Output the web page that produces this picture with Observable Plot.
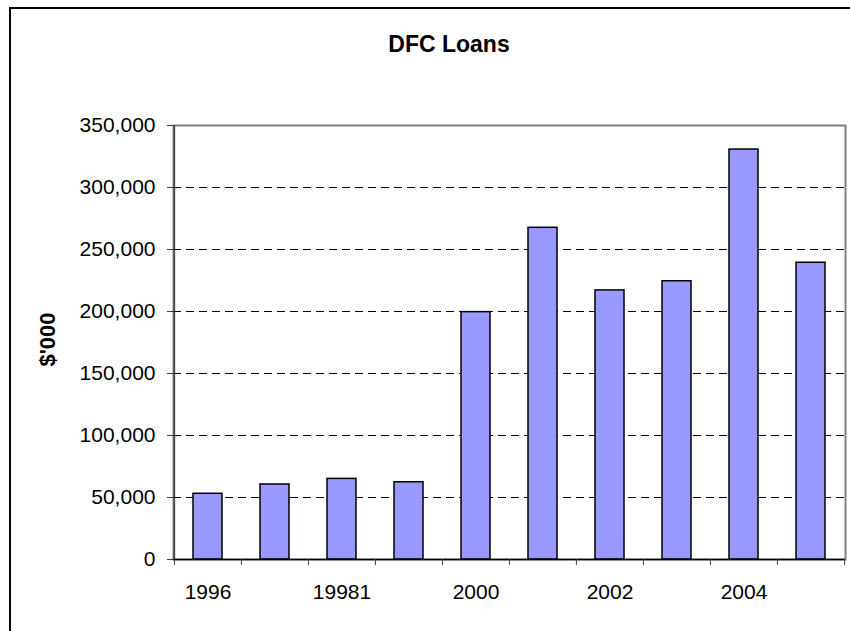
<!DOCTYPE html>
<html>
<head>
<meta charset="utf-8">
<script src="https://cdn.jsdelivr.net/npm/d3@7"></script>
<script src="https://cdn.jsdelivr.net/npm/@observablehq/plot@0.6"></script>
<style>
  html, body { margin: 0; padding: 0; background: #fff; }
  #wrap { position: relative; width: 850px; height: 631px; overflow: hidden; font-family: "Liberation Sans", Arial, sans-serif; }
  #border { position: absolute; left: 9px; top: 7px; width: 1000px; height: 1000px; border: 2.5px solid #000; box-sizing: border-box; }
  #title { position: absolute; left: 0; width: 898px; top: 31px; text-align: center; font-size: 23px; font-weight: bold; color: #000; }
  #chart { position: absolute; left: 0; top: 0; }
</style>
</head>
<body>
<div id="wrap">
  <div id="border"></div>
  <div id="title">DFC Loans</div>
  <div id="chart"></div>
</div>
<script>
const years = ["1996", "1997", "19981", "1999", "2000", "2001", "2002", "2003", "2004", "2005"];
const loans = [53000, 60500, 65000, 62300, 199500, 267500, 217000, 224400, 330600, 239300];
const xTickLabels = ["1996", "19981", "2000", "2002", "2004"];
const yTicks = [0, 50000, 100000, 150000, 200000, 250000, 300000, 350000];
const gridValues = [50000, 100000, 150000, 200000, 250000, 300000];
const yLabel = "$'000";

const data = years.map((y, i) => ({year: y, value: loans[i]}));
const halfStep = 33.6;

const chart = Plot.plot({
  width: 850,
  height: 631,
  marginLeft: 173,
  marginRight: 5,
  marginTop: 125,
  marginBottom: 72,
  style: {fontFamily: "'Liberation Sans', Arial, sans-serif", background: "transparent", color: "#000"},
  x: {domain: years, paddingInner: 0.57, paddingOuter: 0.285, axis: null, label: null},
  y: {domain: [0, 350000], axis: null, label: null},
  marks: [
    Plot.frame({stroke: "#808080", strokeWidth: 2}),
    Plot.ruleY(gridValues, {stroke: "#000", strokeWidth: 1, strokeDasharray: "8,5"}),
    Plot.barY(data, {x: "year", y: "value", fill: "#9999ff", stroke: "#000", strokeWidth: 1.5}),
    Plot.ruleX([years[0]], {dx: -halfStep, stroke: "#404040", strokeWidth: 1.5}),
    Plot.ruleY([0], {stroke: "#000", strokeWidth: 1.5}),
    Plot.axisY({ticks: yTicks, tickSize: 6, tickPadding: 12, tickFormat: d3.format(","), fontSize: 21, stroke: "#404040", label: null}),
    Plot.axisX({ticks: years, tickSize: 6, tickFormat: () => "", dx: -halfStep, stroke: "#404040", label: null}),
    Plot.axisX({ticks: [years[years.length - 1]], tickSize: 6, tickFormat: () => "", dx: halfStep, stroke: "#404040", label: null}),
    Plot.axisX({ticks: xTickLabels, tickSize: 0, tickPadding: 25, fontSize: 21, label: null}),
    Plot.text([yLabel], {frameAnchor: "left", textAnchor: "middle", dx: -126, dy: -3, rotate: -90, fontSize: 22, fontWeight: "bold", fill: "#000"})
  ]
});
document.getElementById("chart").appendChild(chart);
</script>
</body>
</html>
